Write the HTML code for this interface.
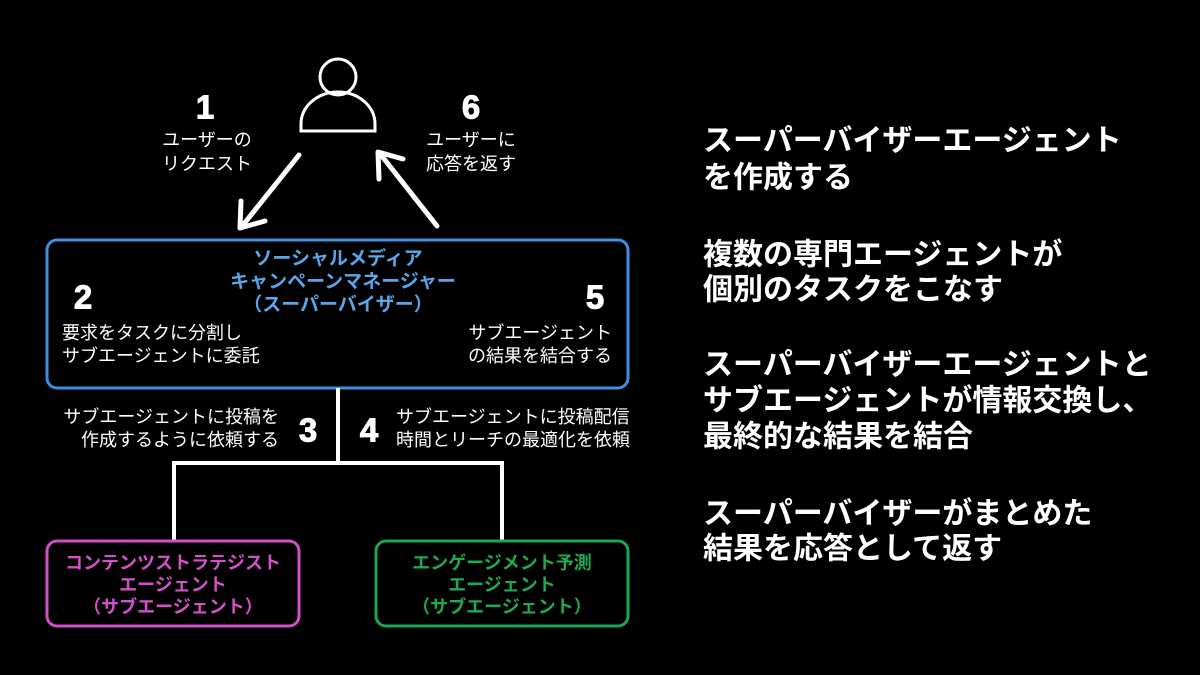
<!DOCTYPE html>
<html><head><meta charset="utf-8"><style>
html,body{margin:0;padding:0;background:#000;}
svg{display:block;}
text{font-family:"Liberation Sans","Noto Sans CJK JP",sans-serif;}
</style></head><body>
<svg width="1200" height="675" viewBox="0 0 1200 675" xmlns="http://www.w3.org/2000/svg">
<rect width="1200" height="675" fill="#000"/>
<circle cx="338" cy="77" r="18" fill="none" stroke="#fff" stroke-width="3"/>
<path d="M301 131 L301 124 A37 32 0 0 1 375 124 L375 131 Z" fill="none" stroke="#fff" stroke-width="3"/>
<g stroke="#fff" stroke-width="5" fill="none" stroke-linecap="round" stroke-linejoin="round">
<line x1="299" y1="155" x2="243" y2="225"/>
<polyline points="241,201 240,228 265,221"/>
<line x1="437" y1="226" x2="381" y2="155"/>
<polyline points="379,179 378,152 403,159"/>
</g>
<g fill="#fff" font-weight="bold" font-size="33" text-anchor="middle" dominant-baseline="central" stroke="#fff" stroke-width="1">
<text x="205" y="107">1</text>
<text x="471" y="107">6</text>
<text x="83" y="297">2</text>
<text x="595" y="297">5</text>
<text x="308" y="430">3</text>
<text x="369" y="430">4</text>
</g>
<g fill="#fff" font-size="18" dominant-baseline="central">
<text x="207" y="140" text-anchor="middle">ユーザーの</text>
<text x="207" y="164" text-anchor="middle">リクエスト</text>
<text x="471" y="140" text-anchor="middle">ユーザーに</text>
<text x="471" y="164" text-anchor="middle">応答を返す</text>
<text x="62" y="333">要求をタスクに分割し</text>
<text x="62" y="356">サブエージェントに委託</text>
<text x="612" y="333" text-anchor="end">サブエージェント</text>
<text x="612" y="356" text-anchor="end">の結果を結合する</text>
<text x="279" y="417" text-anchor="end">サブエージェントに投稿を</text>
<text x="279" y="440" text-anchor="end">作成するように依頼する</text>
<text x="396" y="417">サブエージェントに投稿配信</text>
<text x="396" y="440">時間とリーチの最適化を依頼</text>
</g>
<rect x="47" y="240" width="581" height="148" rx="10" fill="none" stroke="#3d8fe0" stroke-width="3"/>
<g fill="#5aa6e8" font-size="19" font-weight="bold" text-anchor="middle" dominant-baseline="central">
<text x="338" y="259">ソーシャルメディア</text>
<text x="343" y="282">キャンペーンマネージャー</text>
<text x="338" y="305">（スーパーバイザー）</text>
</g>
<g stroke="#fff" stroke-width="4" fill="none">
<line x1="338" y1="388" x2="338" y2="463"/>
<polyline points="174,540 174,463 502,463 502,540"/>
</g>
<rect x="47" y="541" width="252" height="85" rx="10" fill="none" stroke="#d04fc6" stroke-width="3"/>
<rect x="376" y="541" width="252" height="85" rx="10" fill="none" stroke="#1fa552" stroke-width="3"/>
<g font-size="18" font-weight="bold" text-anchor="middle" dominant-baseline="central">
<text x="173" y="563" fill="#d451c9">コンテンツストラテジスト</text>
<text x="173" y="585" fill="#d451c9">エージェント</text>
<text x="173" y="607" fill="#d451c9">（サブエージェント）</text>
<text x="502" y="563" fill="#21a853">エンゲージメント予測</text>
<text x="502" y="585" fill="#21a853">エージェント</text>
<text x="502" y="607" fill="#21a853">（サブエージェント）</text>
</g>
<g fill="#fff" font-size="30" font-weight="bold" dominant-baseline="central">
<text x="703" y="141">スーパーバイザーエージェント</text>
<text x="703" y="178">を作成する</text>
<text x="703" y="255">複数の専門エージェントが</text>
<text x="703" y="290">個別のタスクをこなす</text>
<text x="703" y="365">スーパーバイザーエージェントと</text>
<text x="703" y="401">サブエージェントが情報交換し、</text>
<text x="703" y="437">最終的な結果を結合</text>
<text x="703" y="514">スーパーバイザーがまとめた</text>
<text x="703" y="549">結果を応答として返す</text>
</g>
</svg>
</body></html>
